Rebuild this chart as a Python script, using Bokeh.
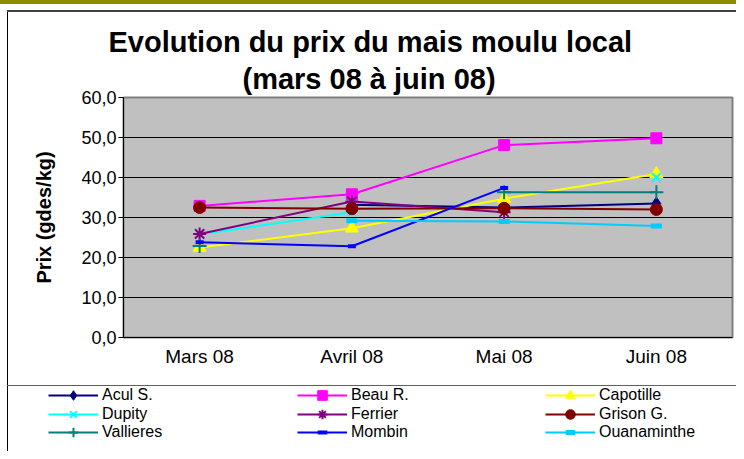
import math
from bokeh.plotting import figure
from bokeh.layouts import column
from bokeh.models import FactorRange, FixedTicker, Legend, LegendItem, Title
from bokeh.embed import file_html
from bokeh.resources import INLINE

nan = math.nan

# ---- data ----
categories = ["Mars 08", "Avril 08", "Mai 08", "Juin 08"]
acul_s = [nan, 33.2, 32.5, 33.5]
beau_r = [32.9, 35.8, 48.1, 49.8]
capotille = [22.5, 27.3, 34.7, 40.9]
dupity = [25.8, 31.3, nan, 40.0]
ferrier = [25.9, 34.0, 31.3, nan]
grison_g = [32.5, 32.2, 32.3, 32.0]
vallieres = [22.9, nan, 36.3, 36.3]
mombin = [23.8, 22.8, 37.4, nan]
ouanaminthe = [nan, 29.2, 29.0, 27.9]

series_names = ["Acul S.", "Beau R.", "Capotille", "Dupity", "Ferrier",
                "Grison G.", "Vallieres", "Mombin", "Ouanaminthe"]
series_values = [acul_s, beau_r, capotille, dupity, ferrier,
                 grison_g, vallieres, mombin, ouanaminthe]

y_ticks = [0, 10, 20, 30, 40, 50, 60]
y_tick_labels = ["0,0", "10,0", "20,0", "30,0", "40,0", "50,0", "60,0"]

title_line1 = "Evolution du prix du mais moulu local"
title_line2 = "(mars 08 à juin 08)"
y_label = "Prix (gdes/kg)"

# ---- styles ----
styles = [
    dict(color="#000080", marker="diamond", size=13, lw=1),
    dict(color="#FF00FF", marker="square", size=11, lw=1),
    dict(color="#FFFF00", marker="triangle", size=13, lw=1),
    dict(color="#00FFFF", marker="x", size=12, lw=2),
    dict(color="#800080", marker="asterisk", size=13, lw=2),
    dict(color="#800000", marker="circle", size=12, lw=1),
    dict(color="#008080", marker="cross", size=14, lw=2),
    dict(color="#0000FF", marker="dash", size=8, lw=4),
    dict(color="#00CCFF", marker="dash", size=11, lw=5),
]

FONT = "Liberation Sans"
W = 736

p = figure(width=W, height=385, output_backend="svg", toolbar_location=None,
           x_range=FactorRange(*categories, range_padding=0), y_range=(0, 60),
           min_border_left=123, min_border_right=4, min_border_top=97,
           min_border_bottom=48)
p.frame_align = False
p.title.text = ""
p.styles = {
    "background": ("linear-gradient(#8C8C00,#8C8C00) 0 0 / 100% 4px no-repeat, "
                   "linear-gradient(#404040,#404040) 7px 10px / 100% 2px no-repeat, "
                   "linear-gradient(#000000,#000000) 7px 10px / 1px 100% no-repeat, white"),
}
p.border_fill_color = None
p.background_fill_color = "#C0C0C0"
p.outline_line_color = "#808080"
p.outline_line_width = 2

p.xgrid.grid_line_color = None
p.ygrid.grid_line_color = "black"
p.ygrid.grid_line_width = 1
p.ygrid.ticker = FixedTicker(ticks=y_ticks)

p.yaxis.ticker = FixedTicker(ticks=y_ticks)
p.yaxis.major_label_overrides = {t: l for t, l in zip(y_ticks, y_tick_labels)}
p.yaxis.minor_tick_line_color = None
p.yaxis.major_tick_in = 0
p.yaxis.major_tick_out = 5
p.yaxis.axis_line_color = "black"
p.yaxis.major_label_text_font = FONT
p.yaxis.major_label_text_font_size = "18px"
p.yaxis.major_label_text_color = "black"
p.yaxis.major_label_standoff = 2
p.yaxis.axis_label = y_label
p.yaxis.axis_label_text_font = FONT
p.yaxis.axis_label_text_font_style = "bold"
p.yaxis.axis_label_text_font_size = "20px"
p.yaxis.axis_label_text_color = "black"
p.yaxis.axis_label_standoff = 23

p.xaxis.major_tick_in = 0
p.xaxis.major_tick_out = 0
p.xaxis.axis_line_color = "black"
p.xaxis.major_label_text_font = FONT
p.xaxis.major_label_text_font_size = "19px"
p.xaxis.major_label_text_color = "black"
p.xaxis.major_label_standoff = 8

for name, vals, st in zip(series_names, series_values, styles):
    p.line(categories, vals, line_color=st["color"], line_width=2)
    p.scatter(categories, vals, marker=st["marker"], size=st["size"],
              fill_color=st["color"], line_color=st["color"], line_width=st["lw"])

# title (two lines, stacked above the plot area)
p.add_layout(Title(text=title_line2, align="left", offset=119, standoff=6,
                   text_font=FONT, text_font_style="bold", text_font_size="29px",
                   text_color="black"), "above")
p.add_layout(Title(text=title_line1, align="left", offset=-15, standoff=0,
                   text_font=FONT, text_font_style="bold", text_font_size="29px",
                   text_color="black"), "above")

# ---- legend panel ----
lg = figure(width=W, height=66, output_backend="svg", toolbar_location=None,
            x_range=(0, 1), y_range=(0, 1), x_axis_type=None, y_axis_type=None,
            min_border=0, min_border_left=0, min_border_right=0,
            min_border_top=0, min_border_bottom=0)
lg.frame_align = False
lg.title.text = ""
lg.styles = {
    "background": ("linear-gradient(#606060,#606060) 7px 0 / 100% 1px no-repeat, "
                   "linear-gradient(#000000,#000000) 7px 0 / 1px 100% no-repeat, white"),
}
lg.border_fill_color = None
lg.background_fill_color = None
lg.outline_line_color = None
lg.xgrid.visible = False
lg.ygrid.visible = False

items = []
for name, st in zip(series_names, styles):
    ln = lg.line(x=[nan], y=[nan], line_color=st["color"], line_width=2)
    sc = lg.scatter(x=[nan], y=[nan], marker=st["marker"], size=st["size"],
                    fill_color=st["color"], line_color=st["color"], line_width=st["lw"])
    items.append(LegendItem(label=name, renderers=[ln, sc]))

col_x = [48, 297, 545]
row_y = [44, 25.5, 7]
for i, item in enumerate(items):
    r, c = divmod(i, 3)
    leg = Legend(items=[item], location=(col_x[c], row_y[r]), padding=0, margin=0,
                 spacing=0, glyph_width=50, glyph_height=24, label_height=17,
                 label_standoff=4, label_text_font=FONT, label_text_font_size="16px",
                 label_text_color="black", border_line_color=None,
                 background_fill_alpha=0)
    lg.add_layout(leg, "center")

layout = column(p, lg, spacing=0)
open("out.html", "w").write(file_html(layout, INLINE))
